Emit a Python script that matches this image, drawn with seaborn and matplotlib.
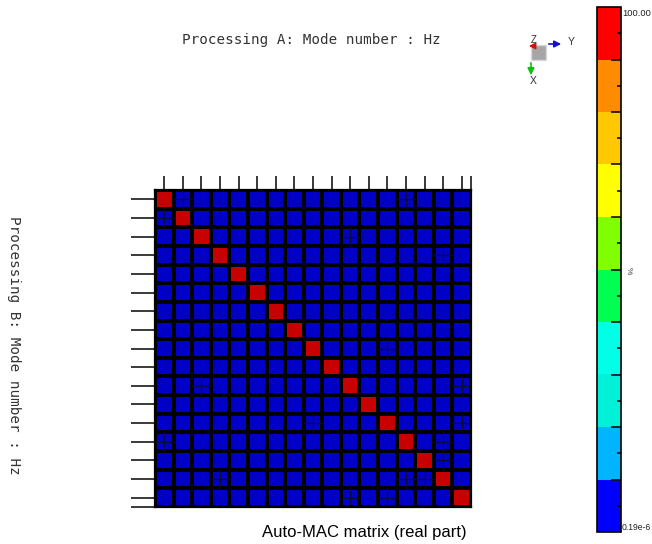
import numpy as np
import matplotlib
matplotlib.use("Agg")
import matplotlib.pyplot as plt
from matplotlib.colors import ListedColormap, BoundaryNorm
from matplotlib.patches import Rectangle, FancyArrowPatch
import seaborn as sns

# ---- data -------------------------------------------------------------
n_modes = 17
mode_ids = list(range(1, n_modes + 1))
diag_mac = [100.0] * n_modes              # auto-MAC of each mode with itself (%)
offdiag_mac = 0.5                         # typical cross-mode MAC (%)
# mode pairs with a noticeable (but still low) cross-correlation
coupled_pairs = [(0, 1), (0, 13), (2, 10), (3, 15), (8, 12),
                 (10, 16), (12, 16), (13, 15), (14, 15)]
coupled_mac = [4.0, 3.5, 3.0, 3.2, 4.5, 3.8, 3.1, 4.2, 5.0]
coupled_limit = 2.5

# colour scale bands (%)
band_edges = [0.19e-6, 10, 20, 30, 40, 50, 60, 70, 80, 90, 100]
band_colors = ["#0000ff", "#00b4ff", "#00f0d8", "#00ffe6", "#00ff50",
               "#80ff00", "#ffff00", "#ffc800", "#ff8c00", "#ff0000"]
scale_top_label = "100.00"
scale_bottom_label = "0.19e-6"
scale_unit = "%"

# ---- build matrix -----------------------------------------------------
mac = np.full((n_modes, n_modes), offdiag_mac)
for i, v in enumerate(diag_mac):
    mac[i, i] = v
for (i, j), v in zip(coupled_pairs, coupled_mac):
    mac[i, j] = v
    mac[j, i] = v

bright_cmap = ListedColormap(band_colors)
cell_cmap = ListedColormap([tuple(0.78 * c for c in matplotlib.colors.to_rgb(col))
                            for col in band_colors])
norm = BoundaryNorm(band_edges, len(band_colors))

# ---- figure -----------------------------------------------------------
W, H = 652, 544
fig = plt.figure(figsize=(W / 100, H / 100), dpi=100)
fig.patch.set_facecolor("white")

def fx(px):
    return px / W

def fy(py):
    return 1 - py / H

ax = fig.add_axes([fx(155), fy(507), fx(471) - fx(155), fy(190) - fy(507)])
sns.heatmap(mac, ax=ax, cmap=cell_cmap, norm=norm, cbar=False,
            linewidths=1.5, linecolor="black",
            xticklabels=False, yticklabels=False)

# cross marks inside cells of coupled modes
for i in range(n_modes):
    for j in range(n_modes):
        if i != j and mac[i, j] > coupled_limit:
            ax.plot([j, j + 1], [i + 0.5, i + 0.5], color="#0a0a3a", lw=0.9)
            ax.plot([j + 0.5, j + 0.5], [i, i + 1], color="#0a0a3a", lw=0.9)

for s in ax.spines.values():
    s.set_visible(True)
    s.set_color("black")
    s.set_linewidth(1.6)

ax.set_xticks(list(np.arange(n_modes) + 0.5) + [n_modes])
ax.set_yticks(list(np.arange(n_modes) + 0.5) + [n_modes])
ax.set_xticklabels([])
ax.set_yticklabels([])
ax.xaxis.tick_top()
ax.tick_params(axis="x", top=True, bottom=False, length=10, width=1.3,
               color="#2a2a2a", direction="out")
ax.tick_params(axis="y", left=True, length=17, width=1.3,
               color="#2a2a2a", direction="out")
ax.set_xlabel("")
ax.set_ylabel("")

# ---- colour scale -----------------------------------------------------
cax = fig.add_axes([fx(597), fy(532), fx(621) - fx(597), fy(7) - fy(532)])
sm = matplotlib.cm.ScalarMappable(cmap=bright_cmap, norm=norm)
cb = fig.colorbar(sm, cax=cax, ticks=band_edges[1:-1], spacing="uniform")
cb.outline.set_edgecolor("black")
cb.outline.set_linewidth(1.2)
cax.yaxis.set_ticks_position("right")
cax.tick_params(axis="y", which="major", length=7, width=1.1, direction="in",
                color="black", labelright=False)
mid_ticks = [(band_edges[k] + band_edges[k + 1]) / 2 if k > 0 else 5
             for k in range(len(band_colors))]
cax.set_yticks(mid_ticks, minor=True)
cax.tick_params(axis="y", which="minor", length=3, width=1.1, direction="in",
                color="black", labelright=False)

fig.text(fx(622), fy(14), scale_top_label, fontsize=6.7,
         family="Liberation Sans", color="#222222", va="center", ha="left")
fig.text(fx(622), fy(527), scale_bottom_label, fontsize=6.2,
         family="Liberation Sans", color="#222222", va="center", ha="left")
fig.text(fx(628), fy(271), scale_unit, fontsize=6, rotation=-90,
         family="Liberation Sans", color="#444444", va="center", ha="center")

# ---- titles -----------------------------------------------------------
fig.text(fx(311), fy(40), "Processing A: Mode number : Hz",
         family="DejaVu Sans Mono", fontsize=10.3, color="#333333",
         ha="center", va="center")
fig.text(fx(14), fy(345), "Processing B: Mode number : Hz",
         family="DejaVu Sans Mono", fontsize=10.3, color="#333333",
         rotation=-90, ha="center", va="center")
fig.text(fx(467), fy(532), "Auto-MAC matrix (real part)",
         family="Liberation Sans", fontsize=12, color="black",
         ha="right", va="center")

# ---- orientation triad --------------------------------------------------
tax = fig.add_axes([fx(515), fy(90), fx(590) - fx(515), fy(30) - fy(90)])
tax.set_xlim(515, 590)
tax.set_ylim(90, 30)
tax.axis("off")
tax.add_patch(Rectangle((531, 45), 15, 15, facecolor="#a6a6a6",
                        edgecolor="#d8d8d8", lw=1))
tax.add_patch(FancyArrowPatch((546, 44), (564, 44), arrowstyle="-|>",
                              mutation_scale=10, color="#1010d0", lw=1.2))
tax.add_patch(FancyArrowPatch((531, 60), (531, 78), arrowstyle="-|>",
                              mutation_scale=10, color="#10c010", lw=1.2))
tax.add_patch(FancyArrowPatch((537, 46), (526, 46), arrowstyle="-|>",
                              mutation_scale=9, color="#d01010", lw=1.2))
tax.text(571, 42, "Y", fontsize=7.5, family="Liberation Sans",
         color="#333333", ha="center", va="center")
tax.text(533, 81, "X", fontsize=7.5, family="Liberation Sans",
         color="#333333", ha="center", va="center")
tax.text(534, 40, "Z", fontsize=7, family="Liberation Sans",
         color="#333333", ha="center", va="center")

fig.savefig("out.png", dpi=100, facecolor="white")
